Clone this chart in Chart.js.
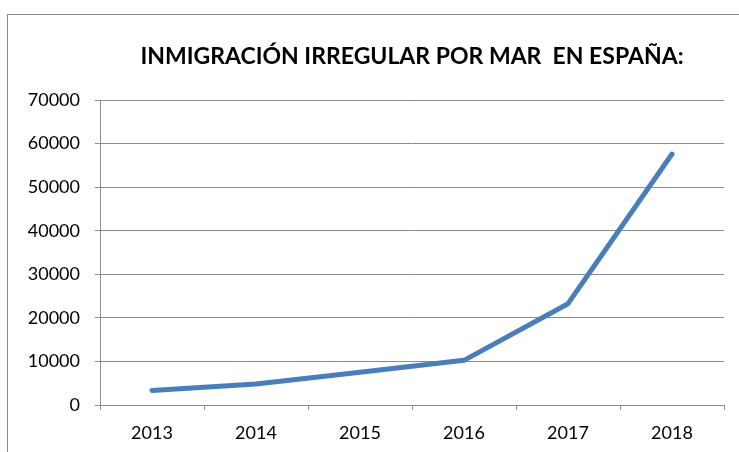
<!DOCTYPE html>
<html>
<head>
<meta charset="utf-8">
<script src="https://cdn.jsdelivr.net/npm/chart.js@4.4.1/dist/chart.umd.min.js"></script>
<style>
  body { margin: 0; background: #fff; overflow: hidden; }
  #wrap { position: relative; width: 739px; height: 452px; }
  #frame { position: absolute; left: 7px; top: 14px; width: 800px; height: 500px; border: 1px solid #8a8a8a; }
  canvas { position: absolute; left: 0; top: 0; }
</style>
</head>
<body>
<div id="wrap">
  <div id="frame"></div>
  <canvas id="chart" width="739" height="452"></canvas>
</div>
<script>
const years = ['2013', '2014', '2015', '2016', '2017', '2018'];
const arrivals = [3350, 4800, 7500, 10250, 23250, 57600];
const yTicks = [0, 10000, 20000, 30000, 40000, 50000, 60000, 70000];

const gridGray = '#8c8c8c';
const tickFont = { family: 'Lato, sans-serif', size: 18 };

new Chart(document.getElementById('chart'), {
  type: 'line',
  data: {
    labels: years,
    datasets: [{
      data: arrivals,
      borderColor: '#4A7EBB',
      borderWidth: 5,
      borderCapStyle: 'round',
      borderJoinStyle: 'round',
      pointRadius: 0,
      tension: 0,
      fill: false
    }]
  },
  options: {
    responsive: false,
    animation: false,
    layout: { padding: { top: 0, left: 0, right: 15, bottom: 0 } },
    plugins: {
      legend: { display: false },
      tooltip: { enabled: false },
      title: {
        display: true,
        fullSize: false,
        text: 'INMIGRACIÓN IRREGULAR POR MAR  EN ESPAÑA:',
        color: '#000',
        font: { family: 'Lato, sans-serif', size: 23, weight: 'bold', lineHeight: 1.2 },
        padding: { top: 43, bottom: 29.4 }
      }
    },
    scales: {
      x: {
        offset: true,
        grid: { offset: true, drawOnChartArea: false, drawTicks: true, tickLength: 5, color: gridGray },
        border: { color: gridGray, width: 1 },
        ticks: { color: '#000', font: tickFont, padding: 12, maxRotation: 0 },
        afterFit: (s) => { s.height = 47; }
      },
      y: {
        min: 0,
        max: 70000,
        afterBuildTicks: (s) => { s.ticks = yTicks.map(v => ({ value: v })); },
        grid: { color: gridGray, tickLength: 5 },
        border: { color: gridGray, width: 1 },
        ticks: { color: '#000', font: tickFont, padding: 15, callback: (v) => String(v) },
        afterFit: (s) => { s.width = 100; }
      }
    }
  }
});
</script>
</body>
</html>
